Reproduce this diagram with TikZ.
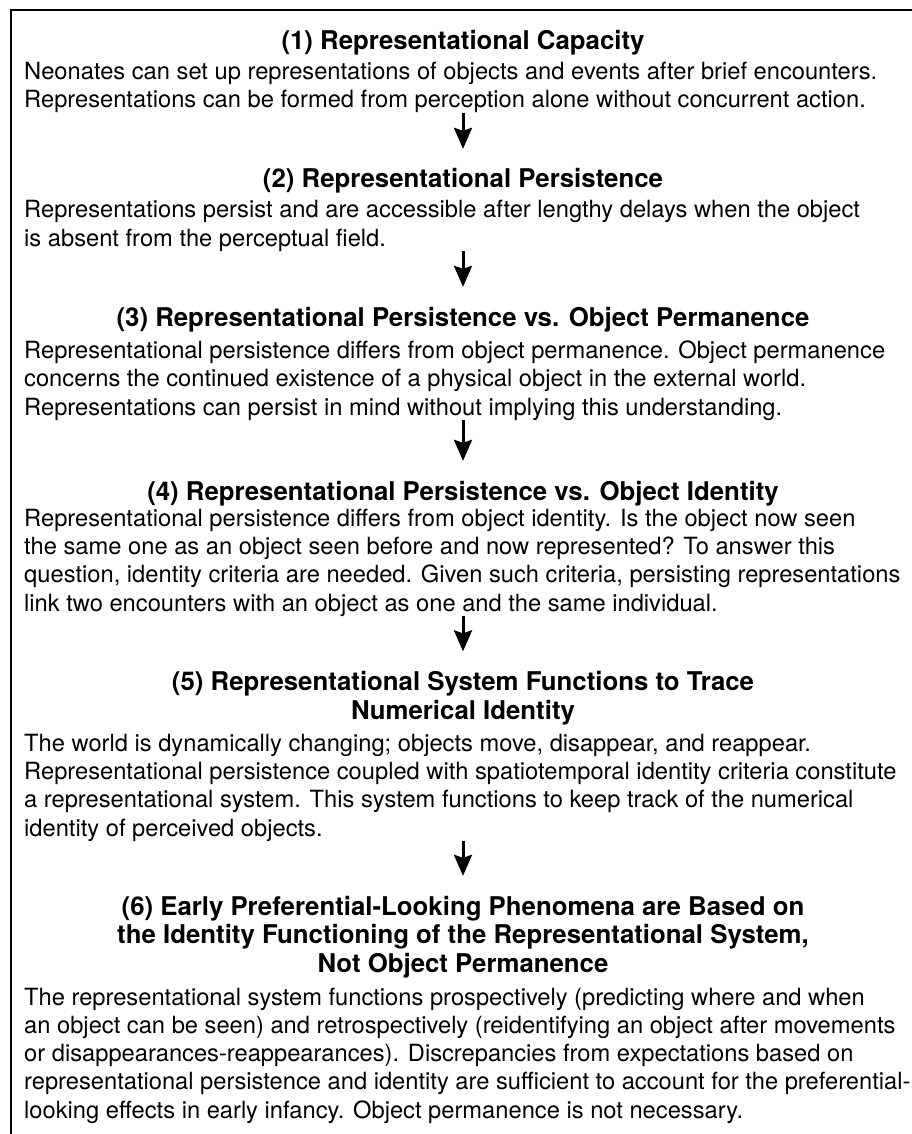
\documentclass[tikz,border=0pt]{standalone}
\usepackage{fontspec}
\setmainfont{TeX Gyre Heros}
\usetikzlibrary{arrows.meta}
\tikzset{
  ttl/.style={anchor=base, align=center, inner sep=0pt, font=\bfseries\fontsize{25.8}{28.5}\selectfont},
  bdy/.style={anchor=base west, align=left, inner sep=0pt, font=\fontsize{23.7}{28.2}\selectfont},
  arr/.style={line width=3pt, -{Stealth[length=21pt,width=18pt,inset=3pt]}, shorten >=19pt, shorten <=-4pt},
  frame/.style={line width=2pt}
}
\begin{document}
\begin{tikzpicture}[x=1pt,y=-1pt]
\useasboundingbox (0,0) rectangle (912,1134);
\draw[frame] (912,10) -- (11,10) -- (11,1134);

\node[ttl] (t1) at (463,50) {\strut(1) Representational Capacity};
\node[bdy] (b1) at (24,108) {Neonates can set up representations of objects and events after brief encounters.\\
Representations can be formed from perception alone without concurrent action.\strut};

\node[ttl] (t2) at (463,188) {\strut(2) Representational Persistence};
\node[bdy] (b2) at (24,246) {Representations persist and are accessible after lengthy delays when the object\\
is absent from the perceptual field.\strut};

\node[ttl] (t3) at (463,326) {\strut(3) Representational Persistence vs. Object Permanence};
\node[bdy] (b3) at (24,415) {Representational persistence differs from object permanence. Object permanence\\
concerns the continued existence of a physical object in the external world.\\
Representations can persist in mind without implying this understanding.\strut};

\node[ttl] (t4) at (463,500) {\strut(4) Representational Persistence vs. Object Identity};
\node[bdy] (b4) at (24,611) {Representational persistence differs from object identity. Is the object now seen\\
the same one as an object seen before and now represented? To answer this\\
question, identity criteria are needed. Given such criteria, persisting representations\\
link two encounters with an object as one and the same individual.\strut};

\node[ttl] (t5) at (463,719) {\strut(5) Representational System Functions to Trace\\
Numerical Identity};
\node[bdy] (b5) at (24,836) {The world is dynamically changing; objects move, disappear, and reappear.\\
Representational persistence coupled with spatiotemporal identity criteria constitute\\
a representational system. This system functions to keep track of the numerical\\
identity of perceived objects.\strut};

\node[ttl] (t6) at (463,972) {\strut(6) Early Preferential-Looking Phenomena are Based on\\
the Identity Functioning of the Representational System,\\
Not Object Permanence};
\node[bdy] (b6) at (24,1118) {The representational system functions prospectively (predicting where and when\\
an object can be seen) and retrospectively (reidentifying an object after movements\\
or disappearances-reappearances). Discrepancies from expectations based on\\
representational persistence and identity are sufficient to account for the preferential-\\
looking effects in early infancy. Object permanence is not necessary.\strut};

\draw[arr] (t2.north |- b1.south) -- (t2.north);
\draw[arr] (t3.north |- b2.south) -- (t3.north);
\draw[arr] (t4.north |- b3.south) -- (t4.north);
\draw[arr] (t5.north |- b4.south) -- (t5.north);
\draw[arr] (t6.north |- b5.south) -- (t6.north);
\end{tikzpicture}
\end{document}
